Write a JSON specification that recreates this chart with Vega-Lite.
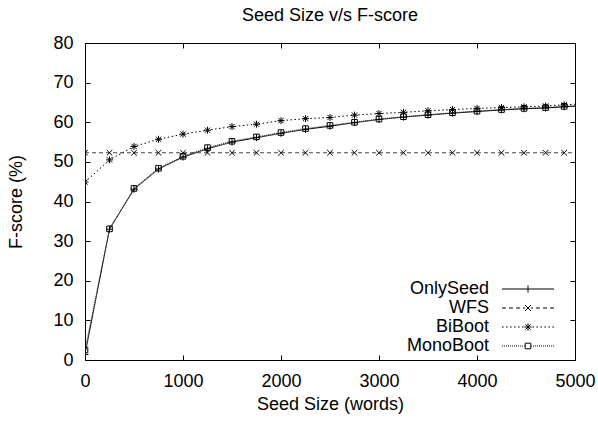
{
  "$schema": "https://vega.github.io/schema/vega-lite/v6.json",
  "width": 490,
  "height": 317,
  "autosize": {"type": "none"},
  "padding": {"left": 85, "top": 43, "right": 23, "bottom": 63},
  "background": "white",
  "title": {"text": "Seed Size v/s F-score", "font": "Liberation Sans", "fontSize": 18, "fontWeight": "normal", "color": "black", "offset": 9, "anchor": "middle"},
  "config": {
    "view": {"stroke": "black", "strokeWidth": 1},
    "axis": {
      "labelFont": "Liberation Sans", "labelFontSize": 18, "labelColor": "black",
      "titleFont": "Liberation Sans", "titleFontSize": 18, "titleFontWeight": "normal", "titleColor": "black",
      "tickColor": "black", "tickSize": -5, "tickWidth": 1, "domain": false, "grid": false, "format": "d"
    }
  },
  "data": {"values": [
    {"series": "OnlySeed", "x": 0, "y": 1.4}, {"series": "OnlySeed", "x": 250, "y": 33.0}, {"series": "OnlySeed", "x": 500, "y": 43.1}, {"series": "OnlySeed", "x": 750, "y": 48.2}, {"series": "OnlySeed", "x": 1000, "y": 51.2}, {"series": "OnlySeed", "x": 1250, "y": 53.3}, {"series": "OnlySeed", "x": 1500, "y": 55.0}, {"series": "OnlySeed", "x": 1750, "y": 56.1}, {"series": "OnlySeed", "x": 2000, "y": 57.2}, {"series": "OnlySeed", "x": 2250, "y": 58.2}, {"series": "OnlySeed", "x": 2500, "y": 59.0}, {"series": "OnlySeed", "x": 2750, "y": 59.9}, {"series": "OnlySeed", "x": 3000, "y": 60.7}, {"series": "OnlySeed", "x": 3250, "y": 61.3}, {"series": "OnlySeed", "x": 3500, "y": 61.8}, {"series": "OnlySeed", "x": 3750, "y": 62.3}, {"series": "OnlySeed", "x": 4000, "y": 62.7}, {"series": "OnlySeed", "x": 4250, "y": 63.1}, {"series": "OnlySeed", "x": 4480, "y": 63.4}, {"series": "OnlySeed", "x": 4700, "y": 63.6}, {"series": "OnlySeed", "x": 4890, "y": 63.9}, {"series": "OnlySeed", "x": 5100, "y": 64.2},
    {"series": "WFS", "x": 0, "y": 52.3}, {"series": "WFS", "x": 250, "y": 52.3}, {"series": "WFS", "x": 500, "y": 52.3}, {"series": "WFS", "x": 750, "y": 52.3}, {"series": "WFS", "x": 1000, "y": 52.3}, {"series": "WFS", "x": 1250, "y": 52.3}, {"series": "WFS", "x": 1500, "y": 52.3}, {"series": "WFS", "x": 1750, "y": 52.3}, {"series": "WFS", "x": 2000, "y": 52.3}, {"series": "WFS", "x": 2250, "y": 52.3}, {"series": "WFS", "x": 2500, "y": 52.3}, {"series": "WFS", "x": 2750, "y": 52.3}, {"series": "WFS", "x": 3000, "y": 52.3}, {"series": "WFS", "x": 3250, "y": 52.3}, {"series": "WFS", "x": 3500, "y": 52.3}, {"series": "WFS", "x": 3750, "y": 52.3}, {"series": "WFS", "x": 4000, "y": 52.3}, {"series": "WFS", "x": 4250, "y": 52.3}, {"series": "WFS", "x": 4480, "y": 52.3}, {"series": "WFS", "x": 4700, "y": 52.3}, {"series": "WFS", "x": 4890, "y": 52.3}, {"series": "WFS", "x": 5100, "y": 52.3},
    {"series": "BiBoot", "x": 0, "y": 44.9}, {"series": "BiBoot", "x": 250, "y": 50.5}, {"series": "BiBoot", "x": 500, "y": 53.9}, {"series": "BiBoot", "x": 750, "y": 55.7}, {"series": "BiBoot", "x": 1000, "y": 57.0}, {"series": "BiBoot", "x": 1250, "y": 58.0}, {"series": "BiBoot", "x": 1500, "y": 58.9}, {"series": "BiBoot", "x": 1750, "y": 59.5}, {"series": "BiBoot", "x": 2000, "y": 60.4}, {"series": "BiBoot", "x": 2250, "y": 60.9}, {"series": "BiBoot", "x": 2500, "y": 61.2}, {"series": "BiBoot", "x": 2750, "y": 61.8}, {"series": "BiBoot", "x": 3000, "y": 62.2}, {"series": "BiBoot", "x": 3250, "y": 62.5}, {"series": "BiBoot", "x": 3500, "y": 62.9}, {"series": "BiBoot", "x": 3750, "y": 63.2}, {"series": "BiBoot", "x": 4000, "y": 63.5}, {"series": "BiBoot", "x": 4250, "y": 63.7}, {"series": "BiBoot", "x": 4480, "y": 63.9}, {"series": "BiBoot", "x": 4700, "y": 64.1}, {"series": "BiBoot", "x": 4890, "y": 64.4}, {"series": "BiBoot", "x": 5100, "y": 64.7},
    {"series": "MonoBoot", "x": 0, "y": 2.5}, {"series": "MonoBoot", "x": 250, "y": 33.1}, {"series": "MonoBoot", "x": 500, "y": 43.3}, {"series": "MonoBoot", "x": 750, "y": 48.4}, {"series": "MonoBoot", "x": 1000, "y": 51.4}, {"series": "MonoBoot", "x": 1250, "y": 53.6}, {"series": "MonoBoot", "x": 1500, "y": 55.2}, {"series": "MonoBoot", "x": 1750, "y": 56.3}, {"series": "MonoBoot", "x": 2000, "y": 57.4}, {"series": "MonoBoot", "x": 2250, "y": 58.4}, {"series": "MonoBoot", "x": 2500, "y": 59.2}, {"series": "MonoBoot", "x": 2750, "y": 60.0}, {"series": "MonoBoot", "x": 3000, "y": 60.8}, {"series": "MonoBoot", "x": 3250, "y": 61.4}, {"series": "MonoBoot", "x": 3500, "y": 61.9}, {"series": "MonoBoot", "x": 3750, "y": 62.4}, {"series": "MonoBoot", "x": 4000, "y": 62.8}, {"series": "MonoBoot", "x": 4250, "y": 63.2}, {"series": "MonoBoot", "x": 4480, "y": 63.5}, {"series": "MonoBoot", "x": 4700, "y": 63.7}, {"series": "MonoBoot", "x": 4890, "y": 64.0}, {"series": "MonoBoot", "x": 5100, "y": 64.3}
  ]},
  "layer": [
    {
      "mark": {"type": "line", "clip": true, "strokeWidth": 1},
      "encoding": {
        "x": {"field": "x", "type": "quantitative", "scale": {"domain": [0, 5000], "nice": false},
              "axis": {"orient": "bottom", "values": [0, 1000, 2000, 3000, 4000, 5000], "title": "Seed Size (words)", "labelPadding": 17, "titlePadding": 5, "labelFlush": false}},
        "y": {"field": "y", "type": "quantitative", "scale": {"domain": [0, 80], "nice": false},
              "axis": {"orient": "left", "values": [0, 10, 20, 30, 40, 50, 60, 70, 80], "title": "F-score (%)", "labelPadding": 17, "titlePadding": 27, "labelFlush": false}},
        "detail": {"field": "series", "type": "nominal"},
        "strokeDash": {"field": "series", "type": "nominal",
                       "scale": {"domain": ["OnlySeed", "WFS", "BiBoot", "MonoBoot"], "range": [[1, 0], [4, 3], [1.5, 2.5], [1, 1]]},
                       "legend": null},
        "stroke": {"field": "series", "type": "nominal",
                   "scale": {"domain": ["OnlySeed", "WFS", "BiBoot", "MonoBoot"], "range": ["black", "#444444", "black", "#222222"]},
                   "legend": null}
      }
    },
    {
      "mark": {"type": "point", "clip": true, "filled": false, "size": 49, "strokeWidth": 1, "color": "black", "opacity": 1},
      "encoding": {
        "x": {"field": "x", "type": "quantitative", "scale": {"domain": [0, 5000], "nice": false},
              "axis": {"orient": "top", "values": [0, 1000, 2000, 3000, 4000, 5000], "labels": false, "title": null}},
        "y": {"field": "y", "type": "quantitative", "scale": {"domain": [0, 80], "nice": false},
              "axis": {"orient": "right", "values": [0, 10, 20, 30, 40, 50, 60, 70, 80], "labels": false, "title": null}},
        "shape": {"field": "series", "type": "nominal",
                  "scale": {"domain": ["OnlySeed", "WFS", "BiBoot", "MonoBoot"],
                            "range": ["M-1,0L1,0M0,-1L0,1", "M-0.8,-0.8L0.8,0.8M-0.8,0.8L0.8,-0.8", "M-1,0L1,0M0,-1L0,1M-0.75,-0.75L0.75,0.75M-0.75,0.75L0.75,-0.75", "M-0.8,-0.8L0.8,-0.8L0.8,0.8L-0.8,0.8Z"]},
                  "legend": null}
      }
    },
    {
      "mark": {"type": "point", "clip": true, "filled": false, "size": 0, "strokeWidth": 1, "color": "black"},
      "encoding": {
        "x": {"field": "x", "type": "quantitative", "scale": {"domain": [0, 5000], "nice": false}, "axis": null},
        "y": {"field": "y", "type": "quantitative", "scale": {"domain": [0, 80], "nice": false}, "axis": null},
        "shape": {"field": "series", "type": "nominal",
                  "scale": {"domain": ["OnlySeed", "WFS", "BiBoot", "MonoBoot"],
                            "range": [
                              "M-6.5,0L6.5,0M0,-0.9L0,0.9",
                              "M-6.5,0L-5.5,0M-4.75,0L-3.75,0M-3,0L-2,0M-1.25,0L-0.75,0M0.75,0L1.25,0M2,0L3,0M3.75,0L4.75,0M5.5,0L6.5,0M-0.75,-0.75L0.75,0.75M-0.75,0.75L0.75,-0.75",
                              "M-6.5,0L-6.1,0M-5.5,0L-5.1,0M-4.5,0L-4.1,0M-3.5,0L-3.1,0M-2.5,0L-2.1,0M-1.5,0L-1.1,0M1.1,0L1.5,0M2.1,0L2.5,0M3.1,0L3.5,0M4.1,0L4.5,0M5.1,0L5.5,0M6.1,0L6.5,0M-0.9,0L0.9,0M0,-0.9L0,0.9M-0.65,-0.65L0.65,0.65M-0.65,0.65L0.65,-0.65",
                              "M-6.5,0L-6.25,0M-6,0L-5.75,0M-5.5,0L-5.25,0M-5,0L-4.75,0M-4.5,0L-4.25,0M-4,0L-3.75,0M-3.5,0L-3.25,0M-3,0L-2.75,0M-2.5,0L-2.25,0M-2,0L-1.75,0M-1.5,0L-1.25,0M-1,0L-0.8,0M0.8,0L1,0M1.25,0L1.5,0M1.75,0L2,0M2.25,0L2.5,0M2.75,0L3,0M3.25,0L3.5,0M3.75,0L4,0M4.25,0L4.5,0M4.75,0L5,0M5.25,0L5.5,0M5.75,0L6,0M6.25,0L6.5,0M-0.7,-0.7L0.7,-0.7L0.7,0.7L-0.7,0.7Z"
                            ]},
                  "legend": {
                    "orient": "none", "legendX": 434, "legendY": 237, "title": null, "padding": 0,
                    "symbolSize": 64, "symbolStrokeWidth": 1, "symbolStrokeColor": "black", "symbolFillColor": "transparent", "symbolOpacity": 1,
                    "labelFont": "Liberation Sans", "labelFontSize": 18, "labelColor": "black", "rowPadding": 1,
                    "labelAlign": "right", "labelOffset": -48
                  }}
      }
    }
  ],
  "resolve": {
    "axis": {"x": "independent", "y": "independent"},
    "scale": {"shape": "independent"},
    "legend": {"shape": "independent", "stroke": "independent", "strokeDash": "independent"}
  }
}
